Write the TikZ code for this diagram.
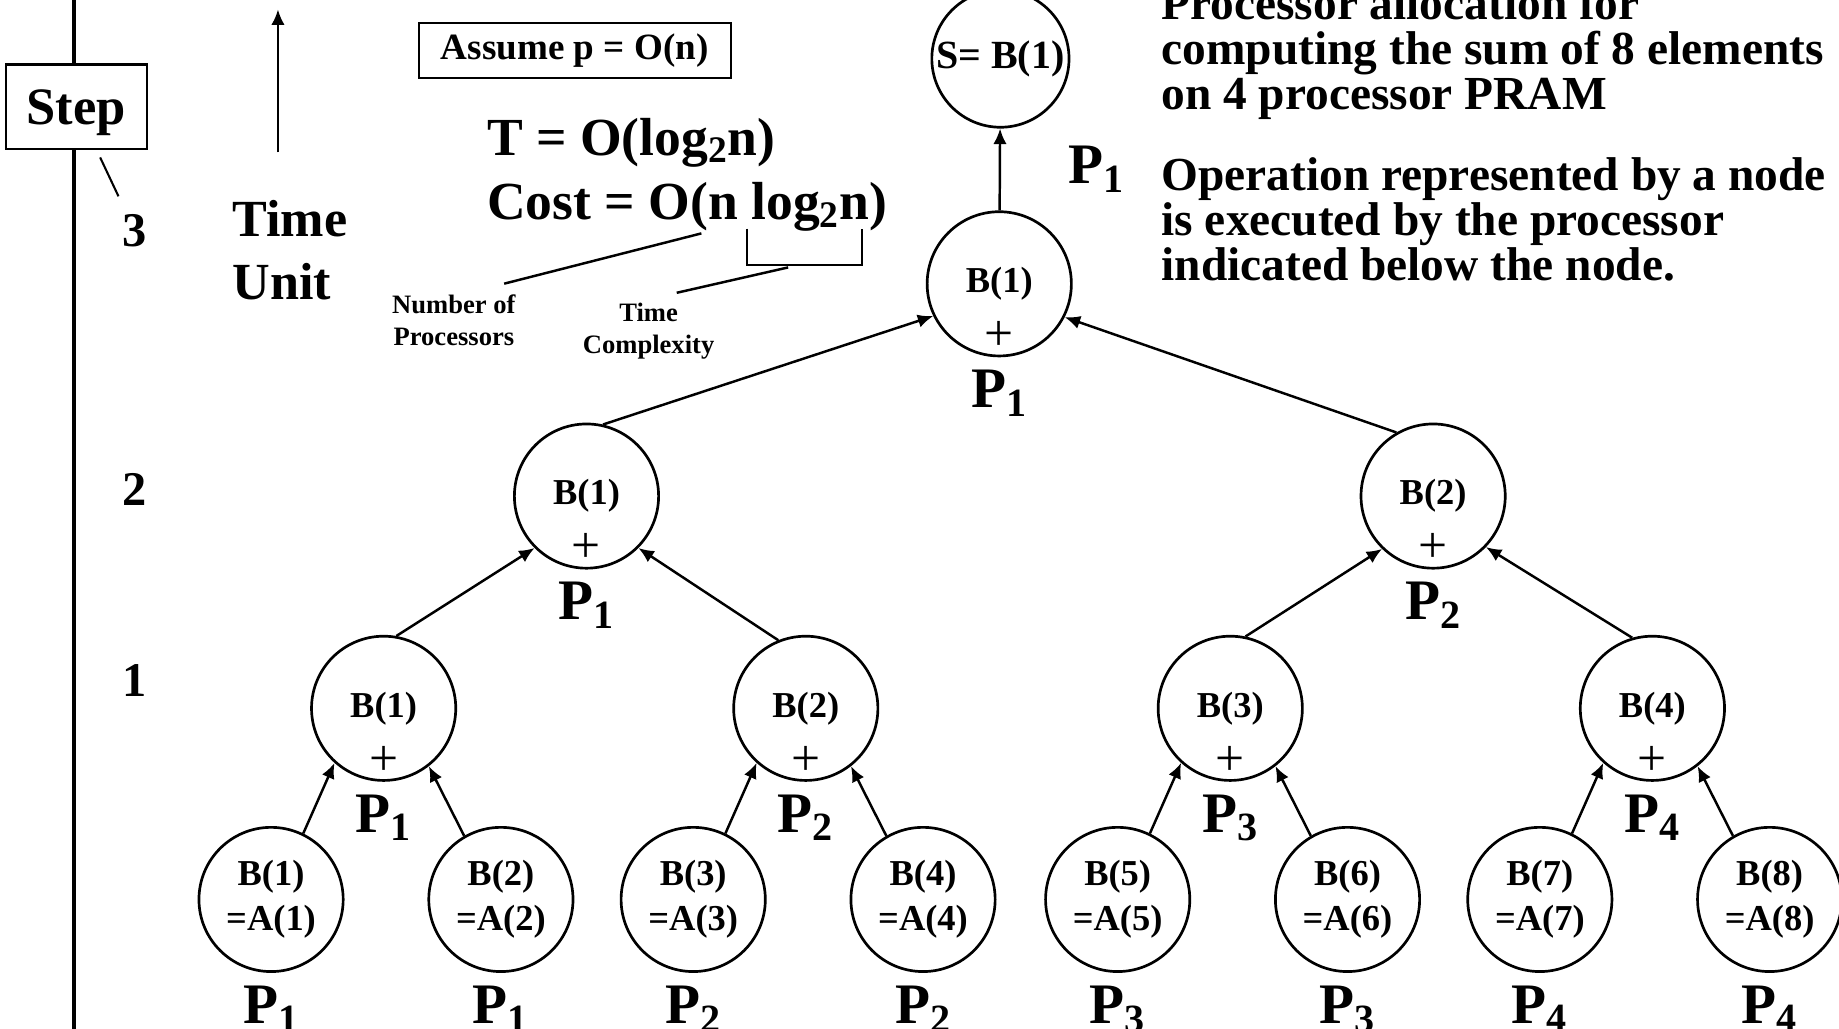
\documentclass[tikz,border=0pt]{standalone}
\usepackage{fontspec}
\setmainfont{Liberation Serif}
\usetikzlibrary{arrows.meta}
\newcommand{\Pn}[1]{P\textsubscript{#1}}
\begin{document}
\begin{tikzpicture}[x=0.02cm, y=-0.02cm,
level 1/.style={sibling distance=14.44cm, level distance=3.62cm, every child node/.style={xshift=0.18cm}},
level 2/.style={sibling distance=7.2cm, level distance=3.62cm, every child node/.style={xshift=0.14cm}},
level 3/.style={sibling distance=3.92cm, level distance=3.26cm, every child node/.style={xshift=0.04cm}},
tip/.style={-{Latex[length=7.5pt,width=6.5pt]}},
edge from parent/.style={draw, line width=1.2pt, {Latex[length=7.5pt,width=6.5pt]}-},
ed/.style 2 args={edge from parent path={(\tikzparentnode.#1) -- (\tikzchildnode.#2)}},
bnode/.style={circle, draw, line width=1.3pt, minimum size=2.46cm, inner sep=0pt, align=center, font=\fontsize{17.7}{21.6}\selectfont\bfseries},
procl/.style={inner sep=0pt, label distance=6pt, font=\fontsize{27.8}{30}\selectfont\bfseries},
plus/.style={anchor=south, inner sep=0pt, yshift=3pt, font=\fontsize{25}{25}\selectfont},
opnode/.style={bnode, label={[plus]south:+}, label={[procl]below:\Pn{#1}}},
leaf/.style={bnode, label={[procl]below:\Pn{#1}}},
txt/.style={inner sep=0pt, align=left},
stepnum/.style={font=\fontsize{23.5}{26}\selectfont\bfseries}]
	\useasboundingbox (0,0) rectangle (1568,877);
	\clip (0,0) rectangle (1568,877);
	\coordinate (axt) at (63,0);
	\coordinate (axb) at (63,877);
	\draw[line width=2.2pt] (axt) -- (axb);
	\node (step) [draw, fill=white, line width=1pt, minimum width=2.4cm, minimum height=1.44cm, text depth=0pt, font=\fontsize{25.5}{28}\selectfont\bfseries] at (65,91) {Step};
	\node (n3) [stepnum] at (115,197) {3};
	\node (n2) [stepnum] at (115,417) {2};
	\node (n1) [stepnum] at (115,580) {1};
	\draw[line width=1pt, shorten <=4pt, shorten >=6pt] (step) -- (n3);
	\coordinate (tb) at (237,130);
	\coordinate (tt) at (237,8);
	\draw[tip, line width=1.2pt] (tb) -- (tt);
	\node (tu) [txt, anchor=west, font=\fontsize{25.3}{30.6}\selectfont\bfseries] at (198,213) {Time\\Unit};
	\node (asm) [draw, line width=1pt, minimum width=5.32cm, minimum height=0.94cm, font=\fontsize{18}{20}\selectfont\bfseries] at (490,43) {Assume p = O(n)};
	\node (eq) [txt, anchor=west, font=\fontsize{26}{31.2}\selectfont\bfseries] at (415,149) {T = O(log\textsubscript{2}n)\\Cost = O(n log\textsubscript{2}n)};
	\node (np) [txt, align=center, font=\fontsize{12.9}{15.6}\selectfont\bfseries] at (387,273) {Number of\\Processors};
	\node (tc) [txt, align=center, font=\fontsize{12.9}{15.6}\selectfont\bfseries] at (553,282) {Time\\Complexity};
	\coordinate (nn) at (598,199);
	\draw[line width=1.2pt] (nn) -- ([shift={(-10,-9)}]np.north east);
	\coordinate (bl) at (637,195);
	\coordinate (br) at (735,195);
	\draw[line width=1.2pt] (bl) -- ++(0,31) -| (br);
	\coordinate (bm) at (672,228);
	\draw[line width=1.2pt] (bm) -- ([shift={(24,-8)}]tc.north);
	\node (ttl) [txt, anchor=west, font=\fontsize{23}{21.8}\selectfont\bfseries] at (990,45) {Processor allocation for\\computing the sum of 8 elements\\on 4 processor PRAM};
	\node (nt) [txt, anchor=west, font=\fontsize{23}{21.8}\selectfont\bfseries] at (990,187) {Operation represented by a node\\is executed by the processor\\indicated below the node.};
	\node (s) [bnode, minimum size=2.34cm, font=\fontsize{19.4}{22}\selectfont\bfseries] at (853,50) {S= B(1)};
	\node (r) [opnode=1] at (852,242) {B(1)}
		child[ed={206}{77}] {node (m1) [opnode=1] {B(1)}
			child[ed={225}{80}] {node (q1) [opnode=1] {B(1)}
				child[ed={228}{64}] {node (l1) [leaf=1] {B(1)\\=A(1)}}
				child[ed={308}{120}] {node (l2) [leaf=1] {B(2)\\=A(2)}}
			}
			child[ed={315}{112}] {node (q2) [opnode=2] {B(2)}
				child[ed={228}{64}] {node (l3) [leaf=2] {B(3)\\=A(3)}}
				child[ed={308}{120}] {node (l4) [leaf=2] {B(4)\\=A(4)}}
			}
		}
		child[ed={333}{120}] {node (m2) [opnode=2] {B(2)}
			child[ed={226}{78}] {node (q3) [opnode=3] {B(3)}
				child[ed={228}{64}] {node (l5) [leaf=3] {B(5)\\=A(5)}}
				child[ed={308}{120}] {node (l6) [leaf=3] {B(6)\\=A(6)}}
			}
			child[ed={316}{106}] {node (q4) [opnode=4] {B(4)}
				child[ed={228}{64}] {node (l7) [leaf=4] {B(7)\\=A(7)}}
				child[ed={308}{120}] {node (l8) [leaf=4] {B(8)\\=A(8)}}
			}
		};
	\draw[tip, line width=1.2pt] (r) -- (s) node[midway, right=1.15cm, procl] {\Pn{1}};
\end{tikzpicture}
\end{document}
